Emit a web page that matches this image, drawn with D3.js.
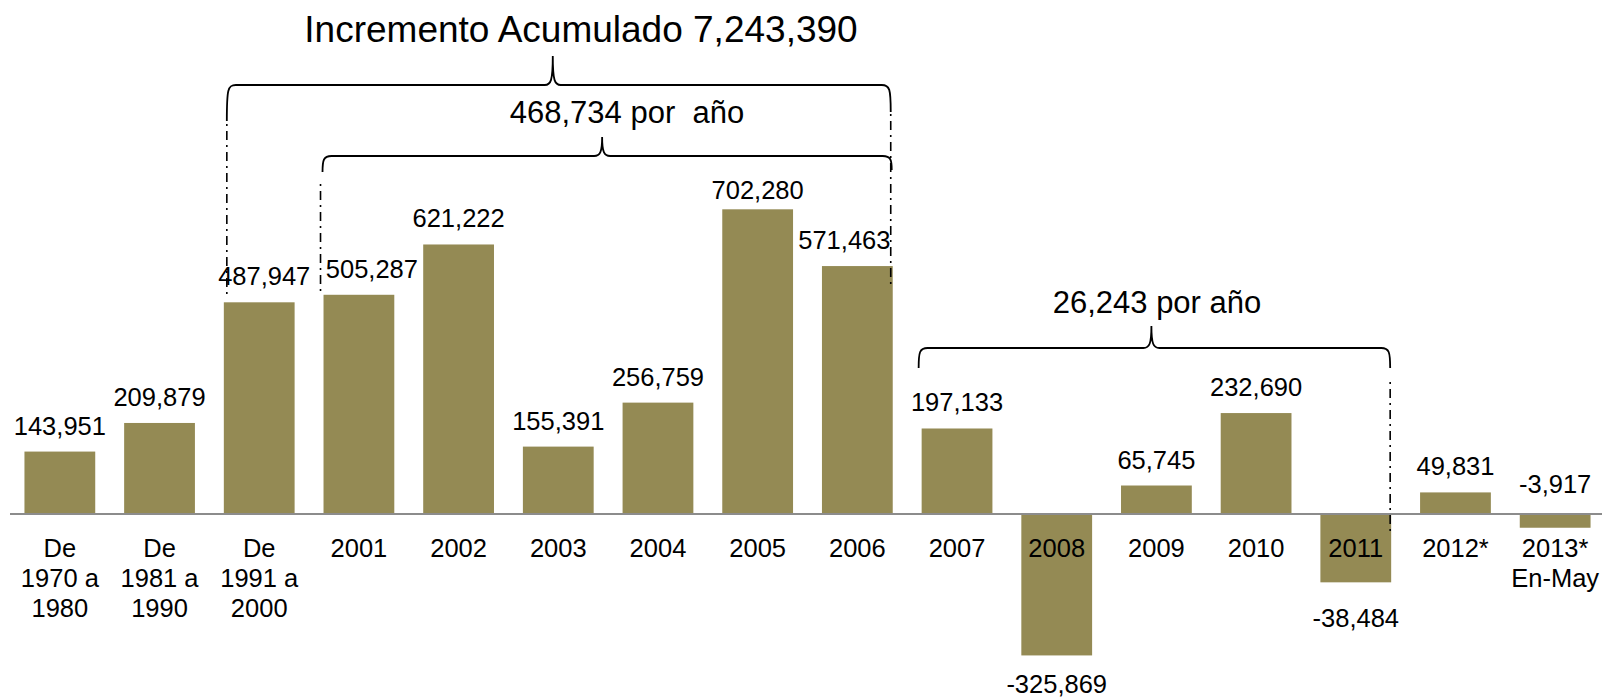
<!DOCTYPE html>
<html>
<head>
<meta charset="utf-8">
<script src="https://cdn.jsdelivr.net/npm/d3@7"></script>
<style>
  html, body { margin: 0; padding: 0; background: #fff; }
  svg { display: block; font-family: "Liberation Sans", Arial, sans-serif; }
</style>
</head>
<body>
<div id="chart"></div>
<script>
// categories, "|" splits the tick label into lines
const categories = ['De|1970 a|1980', 'De|1981 a|1990', 'De|1991 a|2000', '2001', '2002', '2003',
  '2004', '2005', '2006', '2007', '2008', '2009', '2010', '2011', '2012*', '2013*|En-May'];
// bar heights as drawn in the picture (2011 and 2013* bars are longer than their labels)
const barValues = [143951, 209879, 487947, 505287, 621222, 155391, 256759, 702280, 571463,
  197133, -325869, 65745, 232690, -157400, 49831, -31600];
const valueLabels = ['143,951', '209,879', '487,947', '505,287', '621,222', '155,391', '256,759',
  '702,280', '571,463', '197,133', '-325,869', '65,745', '232,690', '-38,484', '49,831', '-3,917'];
// brackets: first and last bar covered, text on top
const braceFrom = [2, 3, 9];
const braceTo = [8, 8, 13];
const braceTexts = ['Incremento Acumulado 7,243,390', '468,734 por  año', '26,243 por año'];

const width = 1602, height = 698;
const barColor = '#948a54';

const svg = d3.select('#chart').append('svg')
  .attr('width', width)
  .attr('height', height);

svg.append('rect').attr('width', width).attr('height', height).attr('fill', '#fff');

const x = d3.scaleBand()
  .domain(categories)
  .range([10, 1605])
  .paddingInner(0.29)
  .paddingOuter(0.145);

const y = d3.scaleLinear()
  .domain([-400000, 800000])
  .range([687.6, 166.9]);

const data = categories.map((c, i) => ({ cat: c, value: barValues[i], label: valueLabels[i] }));

// bars
svg.append('g').selectAll('rect')
  .data(data)
  .join('rect')
  .attr('x', d => x(d.cat))
  .attr('width', x.bandwidth())
  .attr('y', d => y(Math.max(0, d.value)))
  .attr('height', d => Math.abs(y(d.value) - y(0)))
  .attr('fill', barColor);

// zero line
svg.append('line')
  .attr('x1', 10).attr('x2', width)
  .attr('y1', y(0)).attr('y2', y(0))
  .attr('stroke', '#8c8c8c')
  .attr('stroke-width', 2);

// value labels (a few were moved by hand in the original)
const nudge = { '2001': [13, 0], '2006': [-13, 0], '2005': [0, 7], 'De|1991 a|2000': [5, 0], '2011': [0, 7] };
svg.append('g').selectAll('text')
  .data(data)
  .join('text')
  .attr('text-anchor', 'middle')
  .attr('font-size', 25.5)
  .attr('x', d => x(d.cat) + x.bandwidth() / 2 + (nudge[d.cat] ? nudge[d.cat][0] : 0))
  .attr('y', d => {
    let n = nudge[d.cat] ? nudge[d.cat][1] : 0;
    if (d.cat === '2013*|En-May') return y(0) - 21;
    return (d.value >= 0 ? y(d.value) - 17 : y(d.value) + 38) + n;
  })
  .text(d => d.label);

// category labels
const ticks = svg.append('g').selectAll('text')
  .data(data)
  .join('text')
  .attr('text-anchor', 'middle')
  .attr('font-size', 25.5)
  .attr('x', d => x(d.cat) + x.bandwidth() / 2)
  .attr('y', 557);
ticks.selectAll('tspan')
  .data(d => d.cat.split('|').map(t => ({ t, cx: x(d.cat) + x.bandwidth() / 2 })))
  .join('tspan')
  .attr('x', d => d.cx)
  .attr('dy', (d, i) => i === 0 ? 0 : 30)
  .text(d => d.t);

// curly brackets
let bracePath = (x0, x1, tipX, hY, tipY, end0, end1) => {
  return `M${x0},${end0} C${x0},${hY + 4} ${x0 + 1},${hY} ${x0 + 9},${hY}` +
    ` L${tipX - 8},${hY} C${tipX - 2},${hY} ${tipX},${hY - 4} ${tipX},${tipY}` +
    ` C${tipX},${hY - 4} ${tipX + 2},${hY} ${tipX + 8},${hY}` +
    ` L${x1 - 9},${hY} C${x1 - 1},${hY} ${x1},${hY + 4} ${x1},${end1}`;
};

const braceLayout = [
  { hY: 85, tipY: 56, end0: 121, end1: 112, dx0: 3, dx1: -2, tipShift: -6, textX: 581, textY: 42, size: 37 },
  { hY: 156, tipY: 137, end0: 172, end1: 170, dx0: -1, dx1: -1, tipShift: -5, textX: 627, textY: 123, size: 31 },
  { hY: 348, tipY: 326, end0: 368, end1: 368, dx0: -3, dx1: -1, tipShift: -3, textX: 1157, textY: 313, size: 31 }
];

braceTexts.forEach((t, i) => {
  let L = braceLayout[i];
  let x0 = x(categories[braceFrom[i]]) + L.dx0;
  let x1 = x(categories[braceTo[i]]) + x.bandwidth() + L.dx1;
  let tipX = (x0 + x1) / 2 + L.tipShift;
  svg.append('path')
    .attr('d', bracePath(x0, x1, tipX, L.hY, L.tipY, L.end0, L.end1))
    .attr('fill', 'none')
    .attr('stroke', '#000')
    .attr('stroke-width', 1.8);
  svg.append('text')
    .attr('x', L.textX)
    .attr('y', L.textY)
    .attr('text-anchor', 'middle')
    .attr('font-size', L.size)
    .style('white-space', 'pre')
    .attr('xml:space', 'preserve')
    .text(t);
});

// dash-dot guides from the bracket ends down to the bars
let guide = (gx, y0, y1) => {
  svg.append('line')
    .attr('x1', gx).attr('x2', gx)
    .attr('y1', y0).attr('y2', y1)
    .attr('stroke', '#000')
    .attr('stroke-width', 1.6)
    .attr('stroke-dasharray', '2,5,9,5');
};
guide(x(categories[2]) + 3, 124, 297);
guide(x(categories[3]) - 3, 184, y(barValues[3]));
guide(x(categories[8]) + x.bandwidth() - 2, 114, 284);
guide(x(categories[13]) + x.bandwidth() - 1, 382, 531);
</script>
</body>
</html>
